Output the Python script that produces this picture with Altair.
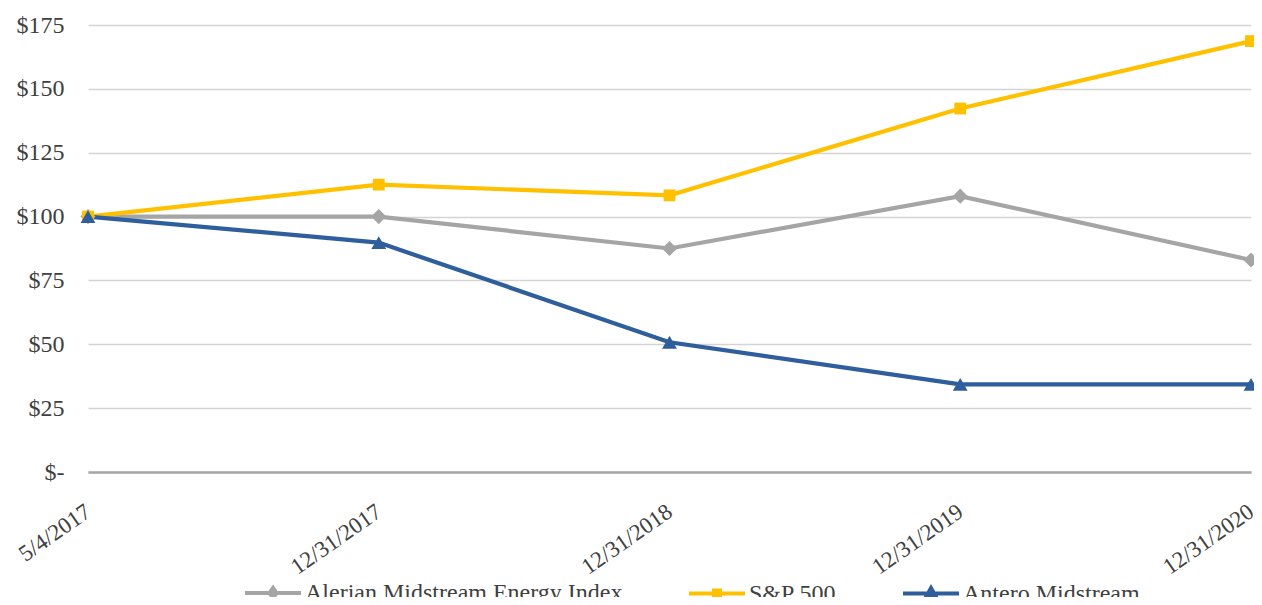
import altair as alt
import pandas as pd

dates = ["5/4/2017", "12/31/2017", "12/31/2018", "12/31/2019", "12/31/2020"]
series_names = ["Alerian Midstream Energy Index", "S&P 500", "Antero Midstream"]
alerian = [100, 100, 87.5, 108, 83]
sp500 = [100, 112.5, 108.3, 142.3, 168.7]
antero = [100, 89.8, 50.8, 34.3, 34.3]
y_ticks = [0, 25, 50, 75, 100, 125, 150, 175]

colors = ["#a5a5a5", "#ffc000", "#2e5e9c"]
marker_shapes = ["diamond", "square", "triangle-up"]
marker_sizes = [230, 140, 220]

rows = []
for name, vals in zip(series_names, [alerian, sp500, antero]):
    for d, v in zip(dates, vals):
        rows.append({"date": d, "series": name, "value": v})
df = pd.DataFrame(rows)

FONT = "Liberation Serif"
LABEL_COLOR = "#404040"

x_enc = alt.X("date:O", sort=dates,
              scale=alt.Scale(type="point", padding=0),
              axis=alt.Axis(title=None, labelAngle=-35, labelFontSize=23,
                            labelFont=FONT, labelColor=LABEL_COLOR,
                            labelBaseline="middle",
                            ticks=False, grid=False, domain=True,
                            domainColor="#a6a6a6", domainWidth=2.5,
                            labelPadding=37))
y_enc = alt.Y("value:Q",
              scale=alt.Scale(domain=[0, 175], nice=False),
              axis=alt.Axis(title=None, values=y_ticks, ticks=False, domain=False,
                            labelExpr="datum.value == 0 ? '$-' : '$' + datum.value",
                            labelFontSize=24, labelFont=FONT, labelColor=LABEL_COLOR,
                            labelPadding=24, gridColor="#d4d4d4", gridWidth=1.5))

base = alt.Chart(df)

legend_paths = [
    "M-2.8,0L2.8,0M0,-0.5L0.35,0L0,0.5L-0.35,0Z",
    "M-2.8,0L2.8,0M-0.3,-0.3L0.3,-0.3L0.3,0.3L-0.3,0.3Z",
    "M-2.8,0L2.8,0M0,-0.55L0.45,0.25L-0.45,0.25Z",
]

layers = []
for i, (name, col) in enumerate(zip(series_names, colors)):
    layers.append(
        base.transform_filter(alt.datum.series == name)
        .mark_line(strokeWidth=4.2, color=col)
        .encode(x=x_enc if i == 0 else alt.X("date:O", sort=dates),
                y=y_enc if i == 0 else alt.Y("value:Q"))
    )

for name, col, shp, sz in zip(series_names, colors, marker_shapes, marker_sizes):
    layers.append(
        base.transform_filter(alt.datum.series == name)
        .mark_point(filled=True, shape=shp, size=sz, color=col, opacity=1)
        .encode(x=alt.X("date:O", sort=dates), y="value:Q")
    )

# invisible spacer title pushes the legend entries to the right (centres the legend)
SPACER = "xxxxxxxxxxxxxx"

def leg():
    return alt.Legend(title=SPACER, titleOrient="left", titleOpacity=0,
                      titleFontSize=24, titleFont=FONT, titlePadding=5,
                      titleLimit=400, labelLimit=400,
                      orient="bottom", direction="horizontal", offset=2)

# legend-only layer: its marks are pushed outside the clipped plot area
legend_layer = base.mark_point(
    filled=False, opacity=1, strokeWidth=4, clip=True, yOffset=3000
).encode(
    x=alt.X("date:O", sort=dates),
    y=alt.Y("value:Q"),
    color=alt.Color("series:N", scale=alt.Scale(domain=series_names, range=colors),
                    legend=leg()),
    shape=alt.Shape("series:N", scale=alt.Scale(domain=series_names, range=legend_paths),
                    legend=leg()),
)
layers.append(legend_layer)

chart = alt.layer(*layers).properties(
    width=1163, height=447,
    autosize=alt.AutoSizeParams(type="none"),
    padding={"left": 80, "top": 17, "right": 3, "bottom": 125},
).configure_view(stroke=None).configure_legend(
    labelFont=FONT, labelFontSize=24, labelColor=LABEL_COLOR,
    symbolSize=400, symbolStrokeWidth=4, labelOffset=20, columnPadding=58,
    symbolOpacity=1, padding=0, labelLimit=400,
)

chart.save("out.html", embed_options={"renderer": "svg", "actions": False})
